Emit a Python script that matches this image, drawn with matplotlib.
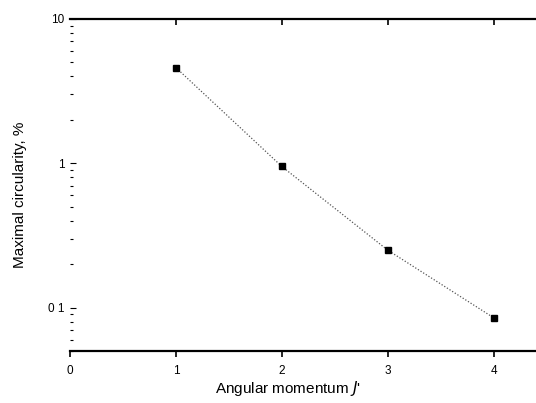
import matplotlib
matplotlib.use("Agg")
import matplotlib.pyplot as plt
from matplotlib.ticker import LogLocator, NullFormatter, FixedLocator

plt.rcParams['font.family'] = ['Liberation Sans', 'DejaVu Sans']

# values
j_values = [1, 2, 3, 4]
circularity = [4.6, 0.95, 0.25, 0.085]
x_ticks = [0, 1, 2, 3, 4]
y_ticks = [0.1, 1, 10]
y_tick_labels = ["0 1", "1", "10"]

fig = plt.figure(figsize=(5.36, 4.03), dpi=100)
ax = fig.add_axes([0.1306, 0.129, 0.8694, 0.824])

ax.plot(j_values, circularity, linestyle=(0, (1, 1.5)), color="#555555", linewidth=0.9)
ax.plot(j_values, circularity, linestyle="none", marker="s", markersize=4.5, color="black")

ax.set_yscale("log")
ax.set_xlim(0, 4.4)
ax.set_ylim(0.05, 10)

ax.xaxis.set_major_locator(FixedLocator(x_ticks))
ax.set_xticklabels([str(t) for t in x_ticks])
ax.yaxis.set_major_locator(FixedLocator(y_ticks))
ax.set_yticklabels(y_tick_labels)
ax.yaxis.set_minor_locator(LogLocator(base=10, subs=range(2, 10)))
ax.yaxis.set_minor_formatter(NullFormatter())

for side in ["top", "bottom"]:
    ax.spines[side].set_linewidth(1.6)
ax.spines["right"].set_visible(False)
ax.spines["left"].set_visible(False)

ax.tick_params(axis="x", which="major", direction="out", length=4, width=1.2,
               labelsize=8.5, pad=6)
ax.tick_params(axis="y", which="major", direction="in", length=4, width=0.8,
               labelsize=8.5, pad=4)
ax.tick_params(axis="y", which="minor", direction="in", length=2, width=0.8)

# inward ticks along the top spine
top = ax.secondary_xaxis("top")
top.set_xticks(x_ticks[1:])
top.tick_params(direction="in", length=4, width=1.2, labeltop=False)
top.spines["top"].set_visible(False)

ax.set_xlabel("Angular momentum $J$'", fontsize=11)
ax.xaxis.set_label_coords(0.467, -0.085)
ax.set_ylabel("Maximal circularity, %", fontsize=11)
ax.yaxis.set_label_coords(-0.092, 0.47)

fig.savefig("out.png", dpi=100)
